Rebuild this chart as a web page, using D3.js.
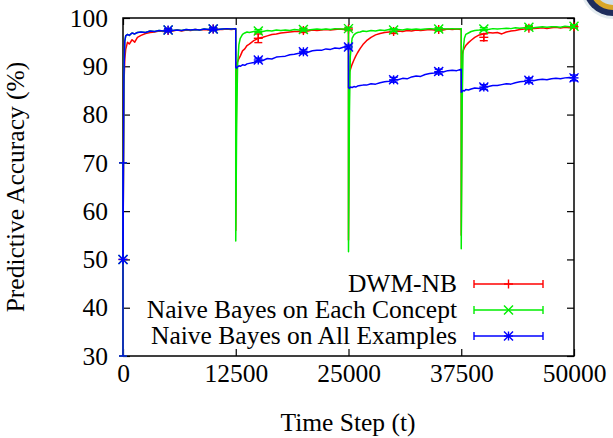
<!DOCTYPE html>
<html>
<head>
  <title>Predictive Accuracy</title>
  <script src="https://d3js.org/d3.v7.min.js"></script>
</head>
<body style="margin:0">
  <script>
  // sample times (shared by the three lines)
  const times = [
    0, 100, 200, 300, 500, 700, 1000, 1300, 1600, 2000, 2500,
    3000, 3500, 4000, 4500, 5000, 5500, 6000, 6500, 7000, 7500, 8000, 8500, 9000, 9500, 10000, 10500, 11000, 11500, 12000, 12499,
    12500, 12600, 12700, 12850, 13000, 13250, 13500, 13750, 14000,
    14500, 15000, 15500, 16000, 16500, 17000, 17500, 18000, 18500, 19000, 19500, 20000, 20500, 21000, 21500, 22000, 22500, 23000, 23500, 24000, 24500, 24999,
    25000, 25100, 25200, 25400, 25600, 25800, 26000, 26300, 26600,
    27000, 27500, 28000, 28500, 29000, 29500, 30000, 30500, 31000, 31500, 32000, 32500, 33000, 33500, 34000, 34500, 35000, 35500, 36000, 36500, 37000, 37499,
    37500, 37600, 37700, 37850, 38000, 38300, 38600, 39000,
    39500, 40000, 40500, 41000, 41500, 42000, 42500, 43000, 43500, 44000, 44500, 45000, 45500, 46000, 46500, 47000, 47500, 48000, 48500, 49000, 49500, 50000
  ];

  const dwmNB = [
    50, 86, 91.5, 93.5, 95.0, 94.6, 95.5, 95.0, 96.0, 96.4, 96.8,
    97.0, 97.1, 97.3, 97.2, 97.4, 97.3, 97.5, 97.3, 97.5, 97.4, 97.6, 97.5, 97.6, 97.5, 97.7, 97.6, 97.6, 97.7, 97.6, 97.7,
    56, 90.6, 90.9, 91.6, 92.1, 93.2, 93.6, 94.3, 94.6,
    95.3, 95.8, 96.0, 96.3, 96.6, 96.7, 96.9, 97.0, 97.1, 97.2, 97.2, 97.4, 97.3, 97.5, 97.4, 97.5, 97.6, 97.5, 97.6, 97.7, 97.6, 97.7,
    54, 88.8, 89.3, 90.4, 91.3, 92.1, 92.8, 93.7, 94.5,
    95.3, 96.0, 96.5, 96.8, 97.0, 97.1, 97.2, 97.3, 97.2, 97.4, 97.3, 97.5, 97.4, 97.5, 97.6, 97.5, 97.6, 97.5, 97.7, 97.6, 97.7, 97.6,
    55, 92.4, 93.2, 93.8, 94.3, 94.9, 95.4, 96.0,
    96.5, 96.7, 97.0, 96.9, 97.0, 96.7, 97.1, 97.3, 97.4, 97.6, 97.7, 97.9, 97.8, 97.9, 98.0, 97.8, 98.0, 98.1, 97.9, 98.1, 98.0, 98.2
  ];

  const nbEach = [
    50, 88, 95.2, 96.3, 96.6, 96.4, 96.9, 96.7, 97.0, 97.1, 97.0,
    97.3, 97.2, 97.4, 97.3, 97.5, 97.4, 97.5, 97.4, 97.6, 97.5, 97.6, 97.5, 97.7, 97.6, 97.7, 97.6, 97.7, 97.8, 97.7, 97.8,
    53.8, 78, 90, 94.5, 95.8, 96.6, 96.9, 97.1, 97.0,
    97.2, 97.3, 97.2, 97.4, 97.3, 97.5, 97.4, 97.5, 97.4, 97.6, 97.5, 97.6, 97.5, 97.6, 97.7, 97.6, 97.7, 97.6, 97.8, 97.7, 97.7, 97.8,
    51.6, 80, 92, 95.8, 96.5, 96.8, 97.0, 97.1, 97.3,
    97.2, 97.4, 97.3, 97.5, 97.4, 97.6, 97.5, 97.6, 97.5, 97.7, 97.6, 97.7, 97.6, 97.7, 97.8, 97.7, 97.7, 97.8, 97.7, 97.8, 97.7, 97.8,
    52.2, 82, 93, 95.8, 96.6, 96.9, 97.2, 97.4,
    97.5, 97.7, 97.6, 97.8, 97.7, 97.8, 97.9, 97.8, 98.0, 97.9, 98.0, 98.1, 98.0, 98.1, 98.2, 98.1, 98.2, 98.2, 98.1, 98.3, 98.2, 98.3
  ];

  const nbAll = [
    50, 88, 95.2, 96.3, 96.6, 96.4, 96.9, 96.7, 97.0, 97.1, 97.0,
    97.3, 97.2, 97.4, 97.3, 97.5, 97.4, 97.5, 97.4, 97.6, 97.5, 97.6, 97.5, 97.7, 97.6, 97.7, 97.6, 97.7, 97.8, 97.7, 97.8,
    89.8, 89.6, 89.9, 90.1, 90.0, 90.3, 90.2, 90.5, 90.6,
    90.8, 91.3, 91.2, 91.6, 91.5, 91.9, 92.0, 92.1, 92.4, 92.5, 92.7, 93.0, 92.9, 93.2, 93.3, 93.3, 93.6, 93.5, 93.8, 93.7, 94.0, 94.1,
    85.6, 85.4, 85.7, 85.6, 85.8, 85.7, 85.9, 86.0, 86.1,
    86.1, 86.4, 86.3, 86.6, 86.8, 86.9, 87.2, 87.2, 87.5, 87.4, 87.8, 88.0, 87.9, 88.3, 88.5, 88.6, 88.9, 88.8, 89.1, 89.2, 89.1, 89.4,
    84.6, 84.8, 85.0, 84.9, 85.2, 85.1, 85.3, 85.5,
    85.4, 85.7, 85.8, 86.0, 86.0, 86.2, 86.4, 86.3, 86.6, 86.8, 86.9, 87.1, 87.0, 87.2, 87.3, 87.2, 87.4, 87.5, 87.4, 87.6, 87.7, 87.6
  ];

  // error-bar points every 5000 steps
  const markTimes = [0, 5000, 10000, 15000, 20000, 25000, 30000, 35000, 40000, 45000, 50000];
  const dwmMark = [50, 97.4, 97.7, 95.8, 97.4, 97.7, 97.2, 97.6, 96.0, 97.9, 98.2];
  const dwmErr  = [20, 0.3, 0.3, 0.9, 0.4, 0.3, 0.4, 0.3, 0.7, 0.3, 0.3];
  const eachMark = [50, 97.5, 97.7, 97.3, 97.6, 97.8, 97.5, 97.7, 97.7, 98.1, 98.3];
  const eachErr  = [20, 0.3, 0.3, 0.3, 0.3, 0.3, 0.3, 0.3, 0.3, 0.3, 0.3];
  const allMark = [50, 97.5, 97.7, 91.3, 93.0, 94.0, 87.2, 88.9, 85.7, 87.1, 87.6];
  const allErr  = [20, 0.3, 0.3, 0.4, 0.4, 0.4, 0.5, 0.5, 0.5, 0.5, 0.6];

  const xTicks = [0, 12500, 25000, 37500, 50000];
  const yTicks = [30, 40, 50, 60, 70, 80, 90, 100];

  const series = [
    { name: "DWM-NB", values: dwmNB, mark: dwmMark, err: dwmErr, color: "#ff0000", point: "plus" },
    { name: "Naive Bayes on Each Concept", values: nbEach, mark: eachMark, err: eachErr, color: "#00ee00", point: "cross" },
    { name: "Naive Bayes on All Examples", values: nbAll, mark: allMark, err: allErr, color: "#0000ff", point: "star" }
  ];

  const W = 613, H = 438;
  const pL = 123, pR = 574, pT = 18, pB = 356;
  const FONT = '"Liberation Serif"';
  const fs = 25.5;

  const svg = d3.select("body").append("svg")
    .attr("width", W).attr("height", H);

  svg.append("rect").attr("width", W).attr("height", H).attr("fill", "#fff");

  const x = d3.scaleLinear().domain([0, 50000]).range([pL, pR]);
  const y = d3.scaleLinear().domain([30, 100]).range([pB, pT]);

  // axes with inward ticks
  const axes = svg.append("g");
  axes.append("g").attr("transform", `translate(0,${pB})`)
    .call(d3.axisBottom(x).tickValues(xTicks).tickFormat(d3.format("d")).tickSizeInner(-7).tickSizeOuter(0).tickPadding(8));
  axes.append("g").attr("transform", `translate(0,${pT})`)
    .call(d3.axisTop(x).tickValues(xTicks).tickFormat("").tickSizeInner(-7).tickSizeOuter(0));
  axes.append("g").attr("transform", `translate(${pL},0)`)
    .call(d3.axisLeft(y).tickValues(yTicks).tickSizeInner(-7).tickSizeOuter(0).tickPadding(15));
  axes.append("g").attr("transform", `translate(${pR},0)`)
    .call(d3.axisRight(y).tickValues(yTicks).tickFormat("").tickSizeInner(-7).tickSizeOuter(0));

  axes.selectAll(".domain").remove();
  axes.selectAll("g").attr("font-family", null).attr("font-size", null);
  axes.selectAll(".tick line").attr("stroke", "#000").attr("stroke-width", 1.2);
  axes.selectAll(".tick text").attr("font-size", fs).attr("font-family", FONT).attr("fill", "#000");

  // plot frame
  svg.append("rect")
    .attr("x", pL).attr("y", pT)
    .attr("width", pR - pL).attr("height", pB - pT)
    .attr("fill", "none").attr("stroke", "#000").attr("stroke-width", 1.5);

  function drawPoint(g, type, cx, cy, s, color) {
    const segs = [];
    if (type === "plus" || type === "star") {
      segs.push([cx - s, cy, cx + s, cy], [cx, cy - s, cx, cy + s]);
    }
    if (type === "cross" || type === "star") {
      segs.push([cx - s, cy - s, cx + s, cy + s], [cx - s, cy + s, cx + s, cy - s]);
    }
    segs.forEach(p => g.append("line")
      .attr("x1", p[0]).attr("y1", p[1]).attr("x2", p[2]).attr("y2", p[3])
      .attr("stroke", color).attr("stroke-width", 1.4));
  }

  const line = d3.line().x((d, i) => x(times[i])).y(d => y(d));

  series.forEach(s => {
    const g = svg.append("g");
    g.append("path")
      .attr("d", line(s.values))
      .attr("fill", "none").attr("stroke", s.color).attr("stroke-width", 1.5)
      .attr("stroke-linejoin", "round");

    markTimes.forEach((t, i) => {
      const cx = x(t);
      const lo = y(s.mark[i] - s.err[i]), hi = y(s.mark[i] + s.err[i]);
      g.append("line").attr("x1", cx).attr("x2", cx).attr("y1", lo).attr("y2", hi)
        .attr("stroke", s.color).attr("stroke-width", 1.4);
      [lo, hi].forEach(yy => g.append("line")
        .attr("x1", cx - 4).attr("x2", cx + 4).attr("y1", yy).attr("y2", yy)
        .attr("stroke", s.color).attr("stroke-width", 1.4));
      drawPoint(g, s.point, cx, y(s.mark[i]), 4.5, s.color);
    });
  });

  // legend
  const legX = 457, legL = 474, legR = 543, legY0 = 284, legDy = 26;
  series.forEach((s, i) => {
    const ly = legY0 + i * legDy;
    svg.append("text")
      .attr("x", legX).attr("y", ly).attr("dy", "0.33em")
      .attr("text-anchor", "end").attr("font-size", fs).attr("font-family", FONT)
      .text(s.name);
    svg.append("line").attr("x1", legL).attr("x2", legR).attr("y1", ly).attr("y2", ly)
      .attr("stroke", s.color).attr("stroke-width", 1.5);
    [legL, legR].forEach(xx => svg.append("line")
      .attr("x1", xx).attr("x2", xx).attr("y1", ly - 4).attr("y2", ly + 4)
      .attr("stroke", s.color).attr("stroke-width", 1.4));
    drawPoint(svg, s.point, (legL + legR) / 2, ly, 4.5, s.color);
  });

  // axis titles
  svg.append("text")
    .attr("x", 348).attr("y", 423).attr("dy", "0.33em")
    .attr("text-anchor", "middle").attr("font-size", fs).attr("font-family", FONT)
    .text("Time Step (t)");
  svg.append("text")
    .attr("transform", `translate(16,${(pT + pB) / 2}) rotate(-90)`)
    .attr("dy", "0.33em")
    .attr("text-anchor", "middle").attr("font-size", fs).attr("font-family", FONT)
    .text("Predictive Accuracy (%)");

  // partial seal in the top right corner
  const seal = svg.append("g").attr("transform", "translate(613,-14)");
  seal.append("circle").attr("r", 33).attr("fill", "#e4ecf0");
  seal.append("circle").attr("r", 30).attr("fill", "#1e2d5c");
  seal.append("circle").attr("r", 24).attr("fill", "#d9a628");
  seal.append("circle").attr("r", 19).attr("fill", "#cfdde6");
  seal.append("circle").attr("r", 12).attr("fill", "#d9a628");
  </script>
</body>
</html>
